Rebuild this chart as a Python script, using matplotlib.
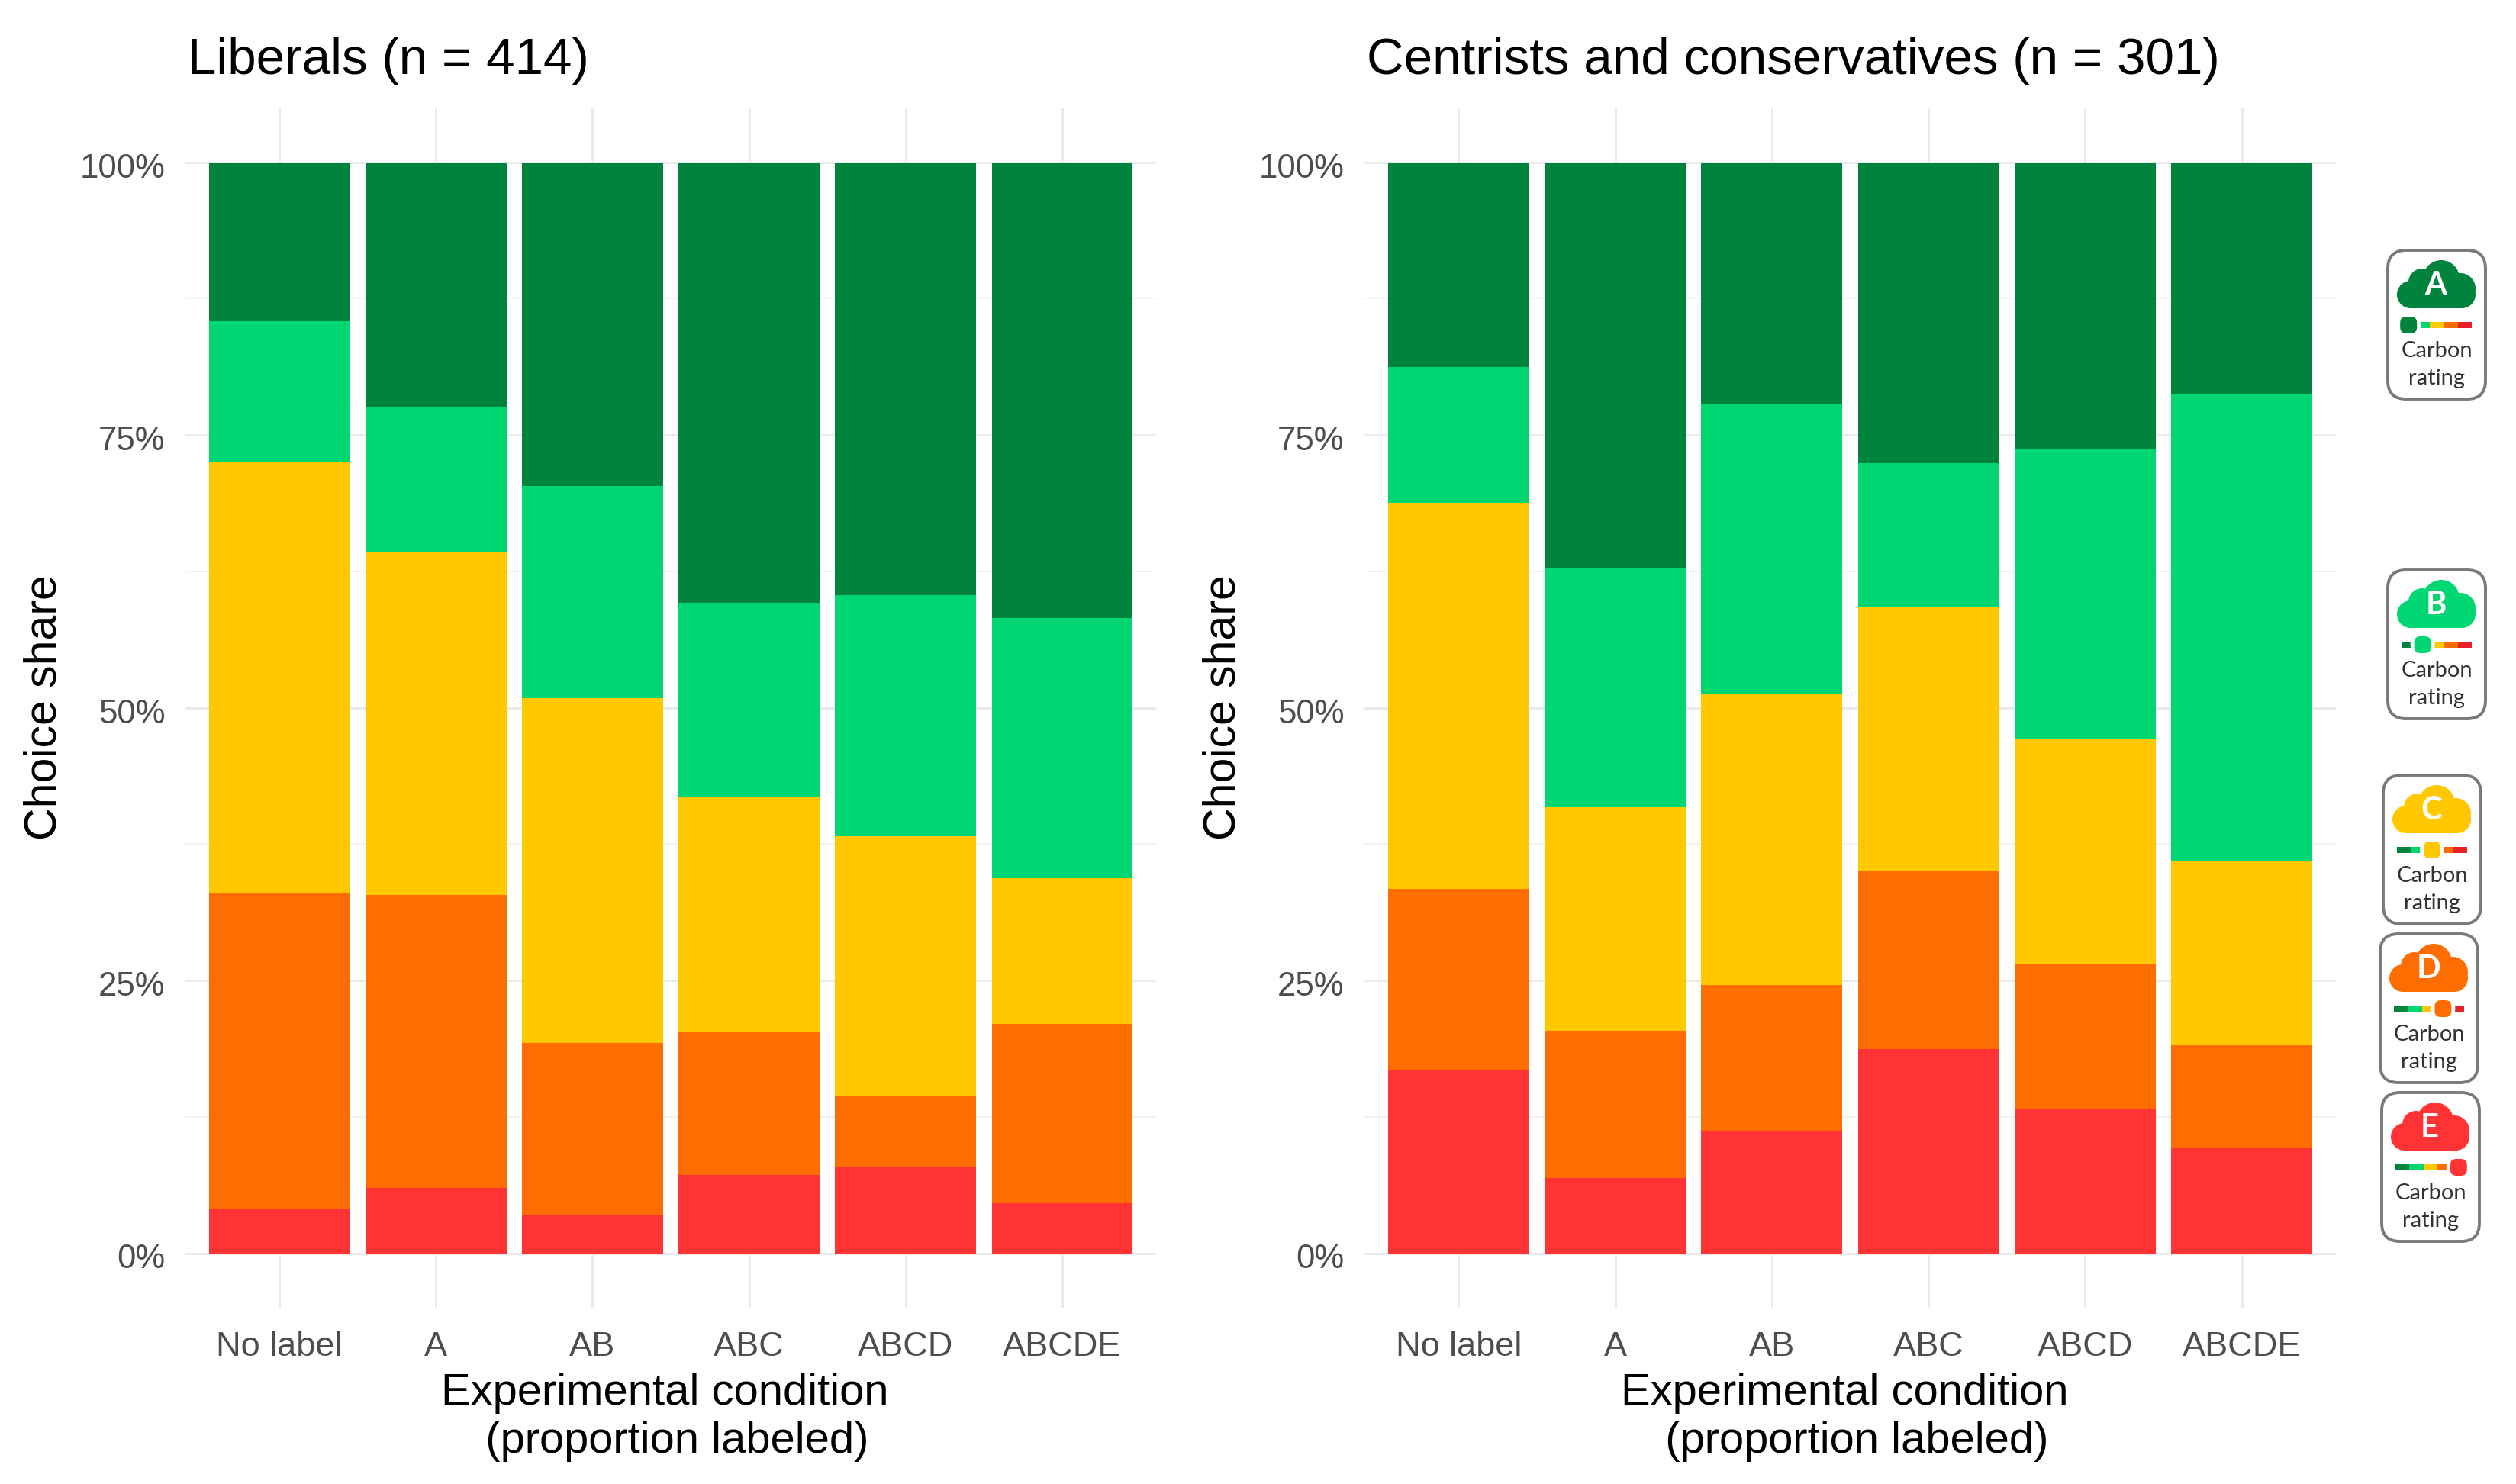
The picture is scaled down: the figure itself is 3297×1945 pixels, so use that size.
import matplotlib
matplotlib.use("Agg")
import matplotlib.pyplot as plt
import numpy as np
from matplotlib.patches import Circle, FancyBboxPatch, Rectangle
from matplotlib.transforms import ScaledTranslation

plt.rcParams["font.family"] = ["Liberation Sans", "DejaVu Sans"]

W, H = 3297, 1945

conditions = ["No label", "A", "AB", "ABC", "ABCD", "ABCDE"]
ratings = ["E", "D", "C", "B", "A"]
colors = {"A": "#00843D", "B": "#00D672", "C": "#FFC800", "D": "#FF6D00", "E": "#FF3333"}

# share of choices, in percent, bottom segment first
lib_e = [4.0, 6.0, 3.5, 7.2, 7.9, 4.6]
lib_d = [29.0, 26.8, 15.8, 13.1, 6.5, 16.4]
lib_c = [39.5, 31.5, 31.6, 21.5, 23.8, 13.4]
lib_b = [12.9, 13.3, 19.4, 17.8, 22.1, 23.8]
lib_a = [14.6, 22.4, 29.7, 40.4, 39.7, 41.8]

con_e = [16.8, 6.9, 11.2, 18.7, 13.2, 9.6]
con_d = [16.6, 13.5, 13.4, 16.4, 13.3, 9.5]
con_c = [35.4, 20.5, 26.7, 24.2, 20.7, 16.8]
con_b = [12.4, 21.9, 26.5, 13.1, 26.5, 42.8]
con_a = [18.8, 37.2, 22.2, 27.6, 26.3, 21.3]

fig = plt.figure(figsize=(W / 100, H / 100), dpi=100, facecolor="white")


def panel(left, right, top, bottom, title, series):
    ax = fig.add_axes([left / W, 1 - bottom / H, (right - left) / W, (bottom - top) / H])
    x = np.arange(len(conditions))
    base = np.zeros(len(conditions))
    for r, vals in zip(ratings, series):
        ax.bar(x, vals, width=0.9, bottom=base, color=colors[r], linewidth=0, zorder=3)
        base = base + np.array(vals)
    ax.set_xlim(-0.6, 5.6)
    ax.set_ylim(-5, 105)
    ax.set_xticks(x)
    ax.set_xticklabels(conditions)
    ax.set_yticks([0, 25, 50, 75, 100])
    ax.set_yticklabels(["0%", "25%", "50%", "75%", "100%"])
    ax.set_yticks([12.5, 37.5, 62.5, 87.5], minor=True)
    ax.grid(True, which="major", color="#EBEBEB", linewidth=2.2, zorder=0)
    ax.grid(True, which="minor", axis="y", color="#F0F0F0", linewidth=1.2, zorder=0)
    ax.tick_params(which="both", length=0)
    ax.tick_params(axis="x", labelsize=32.5, labelcolor="#4D4D4D", pad=22)
    ax.tick_params(axis="y", labelsize=31.5, labelcolor="#4D4D4D", pad=19)
    # y labels sit a touch lower than centred
    nudge = ScaledTranslation(0, -4 / 100, fig.dpi_scale_trans)
    for lab in ax.get_yticklabels():
        lab.set_transform(lab.get_transform() + nudge)
    for s in ax.spines.values():
        s.set_visible(False)
    ax.set_ylabel("Choice share", fontsize=42.5, color="black", labelpad=14)
    ax.set_xlabel("Experimental condition\n  (proportion labeled)", fontsize=41.8, color="black",
                  labelpad=10, linespacing=1.2, x=0.494)
    ax.set_title(title, fontsize=48.5, loc="left", color="black", pad=32, x=0.002)
    return ax


panel(243, 1515, 141, 1714, "Liberals (n = 414)", [lib_e, lib_d, lib_c, lib_b, lib_a])
panel(1788, 3061, 141, 1714, "Centrists and conservatives (n = 301)", [con_e, con_d, con_c, con_b, con_a])

# the carbon rating badges, drawn in image pixels
icons = fig.add_axes([0, 0, 1, 1], zorder=5)
icons.set_xlim(0, W)
icons.set_ylim(H, 0)
icons.axis("off")
icons.patch.set_alpha(0)

scale_cols = ["#00843D", "#00D672", "#FFC800", "#FF6D00", "#E8202A"]
badges = [("A", 3129, 328), ("B", 3129, 747), ("C", 3123, 1016), ("D", 3119, 1224), ("E", 3121, 1432)]
cloud_blobs = [(30, 58, 18), (45, 42, 18), (70, 37, 24), (95, 50, 20), (97, 58, 18)]


def badge(letter, x0, y0):
    w, h = 128, 195
    col = colors[letter]
    icons.add_patch(FancyBboxPatch((x0 + 20, y0 + 20), w - 40, h - 40,
                                   boxstyle="round,pad=20,rounding_size=24",
                                   fc="white", ec="#7A7A7A", lw=2.8))
    cx = x0 + w / 2
    # cloud made of overlapping blobs
    for dx, dy, r in cloud_blobs:
        icons.add_patch(Circle((x0 + dx, y0 + dy), r, fc=col, ec="none"))
    icons.add_patch(Rectangle((x0 + 30, y0 + 50), 67, 26, fc=col, ec="none"))
    icons.text(x0 + 63, y0 + 46, letter, color="white", fontsize=30, fontweight="bold",
               family="Lato", ha="center", va="center")
    # colour scale with the dot on this rating
    bar_l, bar_w = x0 + 18, 92
    for i, c in enumerate(scale_cols):
        icons.add_patch(Rectangle((bar_l + i * bar_w / 5, y0 + 94), bar_w / 5, 8, fc=c, ec="none"))
    i = "ABCDE".index(letter)
    px = bar_l + (i + 0.5) * bar_w / 5
    icons.add_patch(Circle((px, y0 + 98), 16, fc="white", ec="none"))
    icons.add_patch(FancyBboxPatch((px - 4, y0 + 94), 8, 8, boxstyle="round,pad=7,rounding_size=8", fc=col, ec="none"))
    icons.text(cx, y0 + 132, "Carbon", color="#333333", fontsize=21, family="Lato", ha="center", va="center")
    icons.text(cx, y0 + 168, "rating", color="#333333", fontsize=21, family="Lato", ha="center", va="center")


for letter, x0, y0 in badges:
    badge(letter, x0, y0)

fig.savefig("out.png", dpi=100)
